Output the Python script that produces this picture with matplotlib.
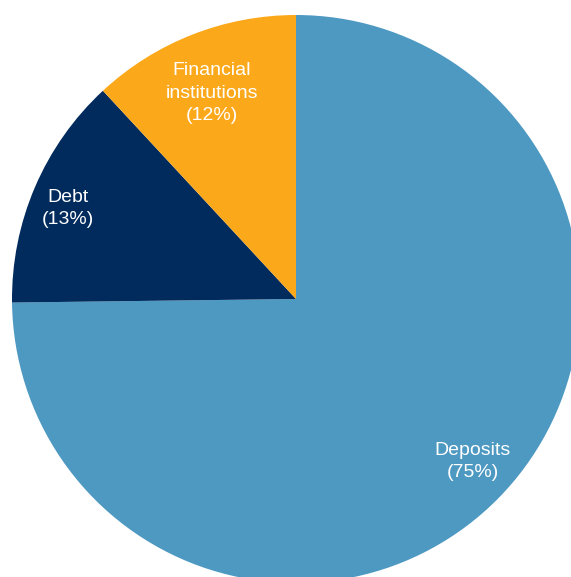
import numpy as np
import matplotlib
matplotlib.use("Agg")
import matplotlib.pyplot as plt

# Funding mix shares (percent)
categories = ["Deposits", "Debt", "Financial\ninstitutions"]
shares = [74.8, 13.3, 11.9]
colors = ["#4E99C2", "#002B5C", "#FCA81B"]

plt.rcParams["font.family"] = ["Liberation Sans", "DejaVu Sans"]

W, H, DPI = 571, 577, 100
fig = plt.figure(figsize=(W / DPI, H / DPI), dpi=DPI)
ax = fig.add_axes([0, 0, 1, 1])

# pixel geometry of the pie: center and radius
cx, cy, R = 296.0, 299.0, 284.0

wedges, _ = ax.pie(shares, colors=colors, startangle=90, counterclock=False,
                   radius=1.0, center=(0, 0), wedgeprops=dict(linewidth=0))
ax.set_xlim(-cx / R, (W - cx) / R)
ax.set_ylim(-(H - cy) / R, cy / R)
ax.set_aspect("auto")
ax.axis("off")

# label placement: radial distance and angular nudge per wedge
label_radius = [0.84, 0.865, 0.79]
label_nudge = [2.4, 1.2, 0.6]
y_shift = -2.0 / R
for w, name, val, r, d in zip(wedges, categories, shares, label_radius, label_nudge):
    mid = np.deg2rad((w.theta1 + w.theta2) / 2 + d)
    ax.text(r * np.cos(mid), r * np.sin(mid) + y_shift, f"{name}\n({val:.0f}%)",
            ha="center", va="center", color="white", fontsize=14,
            linespacing=1.4)

fig.savefig("out.png", dpi=DPI)
